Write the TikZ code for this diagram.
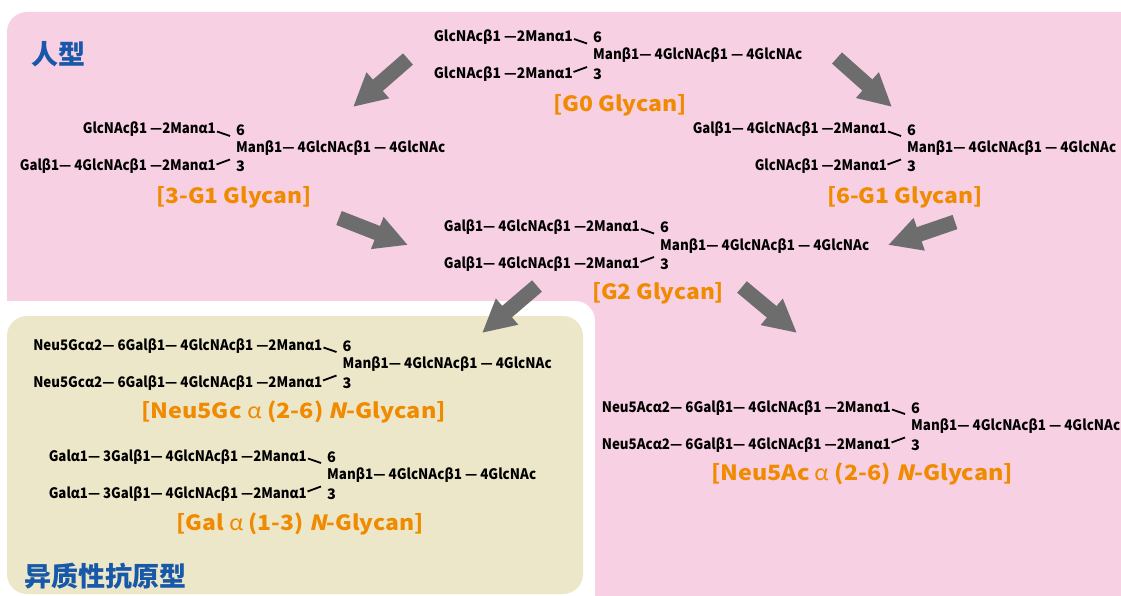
\documentclass[tikz,border=0pt]{standalone}
\usepackage{fontspec}
\usetikzlibrary{arrows.meta}
\newfontfamily\glyfont{Noto Sans CJK SC}
\newfontfamily\slfont{Noto Sans CJK SC}[FakeSlant=0.2, BoldFeatures={FakeSlant=0.2}]
\newfontfamily\cjkfont{Noto Sans CJK SC}

\definecolor{panelpink}{RGB}{247,208,227}
\definecolor{panelbeige}{RGB}{237,231,201}
\definecolor{labor}{RGB}{240,138,0}
\definecolor{zoneblue}{RGB}{24,88,168}
\definecolor{arrgray}{RGB}{109,109,109}

% set a text at a fixed width (horizontal scaling only)
\newsavebox\fitbox
\newcommand\fitw[2]{\sbox\fitbox{#2}\pgfmathsetmacro\fitsx{#1/\the\wd\fitbox}\scalebox{\fitsx}[1]{\usebox\fitbox}}
% slanted N of N-Glycan
\newcommand\slN{{\slfont\bfseries N}}

\tikzset{
  gly/.style={font=\glyfont\bfseries\fontsize{14.5}{15}\selectfont, inner sep=0pt, text=black},
  link/.style={line width=1.8pt, draw=black},
  lab/.style={font=\glyfont\bfseries\fontsize{21}{22}\selectfont, inner sep=0pt, text=labor},
  zone/.style={font=\cjkfont\bfseries\fontsize{27}{28}\selectfont, inner sep=0pt, text=zoneblue},
  bigarrow/.style={line width=15pt, draw=arrgray, -{Triangle[length=33pt,width=32pt]}},
}

% one biantennary glycan: name, x and baseline of the core Man, 6-arm text and width, 3-arm text and width
\newcommand\glycan[7]{%
  \node[gly, anchor=base west] (#1-man) at (#2,#3) {\fitw{209}{Manβ1— 4GlcNAcβ1 — 4GlcNAc}};
  \node[gly, anchor=base east] (#1-top) at (#2-20,#3-18.5) {\fitw{#5}{#4}};
  \node[gly, anchor=base east] (#1-bot) at (#2-20,#3+18.5) {\fitw{#7}{#6}};
  \node[gly, anchor=base west] (#1-six) at (#2,#3-17) {6};
  \node[gly, anchor=base west] (#1-three) at (#2,#3+19.5) {3};
  \coordinate (#1-ua) at (#2-19,#3-21);
  \coordinate (#1-ub) at (#2-6,#3-16.5);
  \coordinate (#1-la) at (#2-19.5,#3+12);
  \coordinate (#1-lb) at (#2-6,#3+7);
  \draw[link] (#1-ua) -- (#1-ub);
  \draw[link] (#1-la) -- (#1-lb);
}

\begin{document}
\begin{tikzpicture}[x=1pt,y=-1pt]
  \useasboundingbox[fill=white] (0,0) rectangle (1121,596);

  % panels
  \fill[panelpink, rounded corners=20pt] (7,12) rectangle (1160,640);
  \fill[white, rounded corners=20pt] (-40,301) rectangle (595,640);
  \fill[panelbeige, rounded corners=20pt] (7,316) rectangle (583,594);

  % group headings
  \node[zone, anchor=west] (human) at (31,54.5) {人型};
  \node[zone, anchor=west] (xeno) at (24,576) {异质性抗原型};

  % glycans
  \glycan{g0}{593}{60}{GlcNAcβ1 —2Manα1}{139}{GlcNAcβ1 —2Manα1}{139}
  \node[lab, anchor=base] (g0-lab) at (620,111.5) {\fitw{134}{[G0 Glycan]}};

  \glycan{g1a}{236}{152.5}{GlcNAcβ1 —2Manα1}{133}{Galβ1— 4GlcNAcβ1 —2Manα1}{196}
  \node[lab, anchor=base] (g1a-lab) at (234,204) {\fitw{155}{[3-G1 Glycan]}};

  \glycan{g1b}{907}{152.5}{Galβ1— 4GlcNAcβ1 —2Manα1}{194}{GlcNAcβ1 —2Manα1}{132}
  \node[lab, anchor=base] (g1b-lab) at (905,204) {\fitw{156}{[6-G1 Glycan]}};

  \glycan{g2}{660}{250}{Galβ1— 4GlcNAcβ1 —2Manα1}{196}{Galβ1— 4GlcNAcβ1 —2Manα1}{196}
  \node[lab, anchor=base] (g2-lab) at (658,299) {\fitw{132}{[G2 Glycan]}};

  \glycan{gc}{342.5}{368.5}{Neu5Gcα2— 6Galβ1— 4GlcNAcβ1 —2Manα1}{289}{Neu5Gcα2— 6Galβ1— 4GlcNAcβ1 —2Manα1}{289}
  \node[lab, anchor=base] (gc-lab) at (293.5,418) {\fitw{305}{[Neu5Gc {\mdseries α} (2-6) \slN-Glycan]}};

  \glycan{ga}{327}{479.5}{Galα1— 3Galβ1— 4GlcNAcβ1 —2Manα1}{258}{Galα1— 3Galβ1— 4GlcNAcβ1 —2Manα1}{258}
  \node[lab, anchor=base] (ga-lab) at (300,530) {\fitw{247}{[Gal {\mdseries α} (1-3) \slN-Glycan]}};

  \glycan{ac}{911}{430.5}{Neu5Acα2— 6Galβ1— 4GlcNAcβ1 —2Manα1}{289}{Neu5Acα2— 6Galβ1— 4GlcNAcβ1 —2Manα1}{289}
  \node[lab, anchor=base] (ac-lab) at (862,480) {\fitw{302}{[Neu5Ac {\mdseries α} (2-6) \slN-Glycan]}};

  % conversion arrows
  \coordinate (a1s) at (408,59);  \coordinate (a1e) at (353,107);
  \coordinate (a2s) at (837,58);  \coordinate (a2e) at (892,107);
  \coordinate (a3s) at (339,218); \coordinate (a3e) at (408,245);
  \coordinate (a4s) at (955,222); \coordinate (a4e) at (888,245);
  \coordinate (a5s) at (537,286); \coordinate (a5e) at (482,333);
  \coordinate (a6s) at (742,287); \coordinate (a6e) at (797,333);
  \draw[bigarrow] (a1s) -- (a1e);
  \draw[bigarrow] (a2s) -- (a2e);
  \draw[bigarrow] (a3s) -- (a3e);
  \draw[bigarrow] (a4s) -- (a4e);
  \draw[bigarrow] (a5s) -- (a5e);
  \draw[bigarrow] (a6s) -- (a6e);
\end{tikzpicture}
\end{document}
